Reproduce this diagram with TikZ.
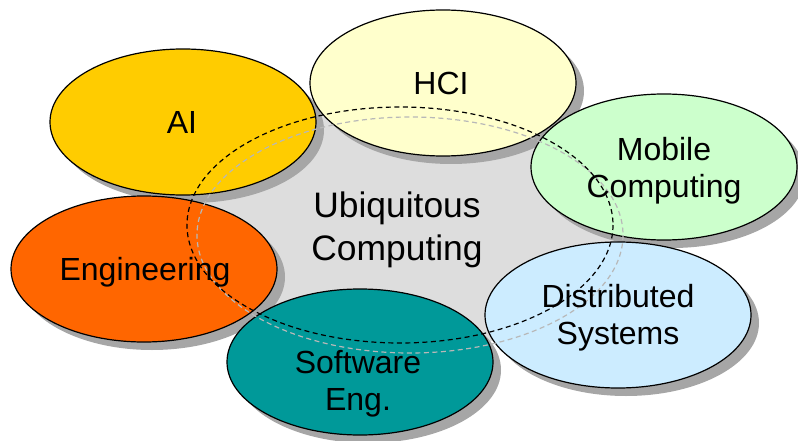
\documentclass[tikz,border=0pt]{standalone}
\usepackage{fontspec}
\setmainfont{Liberation Sans}
\usetikzlibrary{shapes.geometric}

\definecolor{aigold}{HTML}{FFCC00}
\definecolor{hciyellow}{HTML}{FFFFCC}
\definecolor{mobilegreen}{HTML}{CCFFCC}
\definecolor{engorange}{HTML}{FF6600}
\definecolor{softteal}{HTML}{009999}
\definecolor{distblue}{HTML}{CCECFF}
\definecolor{coregray}{HTML}{DDDDDD}
\definecolor{shadowgray}{HTML}{A6A6A6}
\definecolor{ghostdash}{HTML}{B8B8B8}

\begin{document}
\begin{tikzpicture}[x=1pt,y=-1pt,
  bubble/.style={ellipse, draw=black, line width=1.2pt, inner sep=0pt, outer sep=0pt,
                 minimum width=266pt, minimum height=146pt},
  bubbleshadow/.style={ellipse, fill=shadowgray, draw=none, inner sep=0pt, outer sep=0pt,
                 minimum width=266pt, minimum height=146pt},
  bubbletext/.style={font=\fontsize{32}{37}\selectfont, align=center, inner sep=0pt},
  coretext/.style={font=\fontsize{35.4}{42.5}\selectfont, align=center, inner sep=0pt},
  ring/.style={line width=1.2pt, dash pattern=on 5pt off 3.5pt},
]
\useasboundingbox (0,0) rectangle (798,441);
\clip (0,0) rectangle (798,441);

% grey core behind the ring of topics
\fill[coregray] (405,225) ellipse [x radius=230, y radius=125];

% drop shadows
\foreach \p in {(191,130),(451,91),(672,175),(152,277),(368,370),(626,323)}
  \node[bubbleshadow] at \p {};

% topic bubbles
\node[bubble, fill=engorange]   (eng)  at (144,269) {};
\node[bubble, fill=aigold]      (ai)   at (183,122) {};
\node[bubble, fill=hciyellow]   (hci)  at (443,83)  {};
\node[bubble, fill=mobilegreen] (mob)  at (664,167) {};
\node[bubble, fill=softteal]    (soft) at (360,362) {};
\node[bubble, fill=distblue]    (dist) at (618,315) {};

% centre label
\node[coretext] (core) at (397,230) {Ubiquitous\\Computing};

% dashed ring and its faint shadow
\draw[ring, ghostdash] (410,235) ellipse [x radius=213, y radius=118];
\draw[ring, black]     (400,225) ellipse [x radius=213, y radius=118];

% topic labels
\node[bubbletext] (tai)   at (182,122)   {AI};
\node[bubbletext] (thci)  at (441,83.5)  {HCI};
\node[bubbletext] (tmob)  at (664,171)   {Mobile\\Computing};
\node[bubbletext] (teng)  at (145,272.5) {Engineering};
\node[bubbletext] (tsoft) at (358,383.5) {Software\\Eng.};
\node[bubbletext] (tdist) at (618,318)   {Distributed\\Systems};
\end{tikzpicture}
\end{document}
